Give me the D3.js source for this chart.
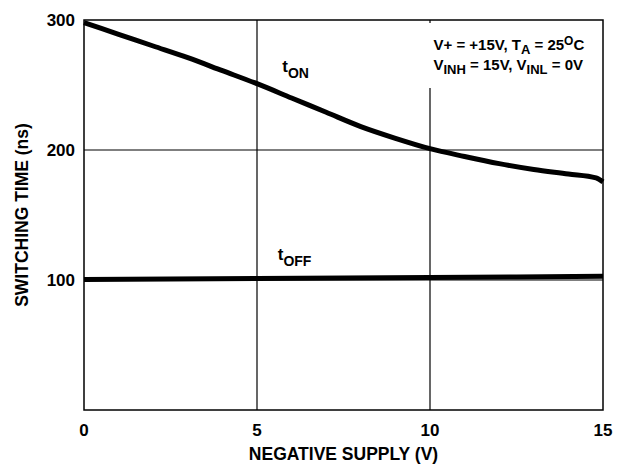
<!DOCTYPE html>
<html>
<head>
<meta charset="utf-8">
<script src="https://cdn.jsdelivr.net/npm/d3@7"></script>
<style>
  body { margin: 0; background: #fff; }
  text { font-family: "Liberation Sans", Arial, sans-serif; font-weight: bold; fill: #000; }
</style>
</head>
<body>
<svg id="chart" width="628" height="468"></svg>
<script>
// Data
const xTicks = [0, 5, 10, 15];
const yTicks = [100, 200, 300];
const yLabels = ['100', '200', '300'];

const supplyOn = [0, 1, 2, 3, 4, 5, 6, 7, 8, 9, 10, 11, 12, 13, 14, 14.8, 15];
const tOn = [298, 289, 280, 271, 261, 251, 240, 229, 218, 209, 201, 195, 189.5, 185, 181.5, 178.5, 175.5];

const supplyOff = [0, 5, 10, 15];
const tOff = [100.4, 101.2, 102, 102.8];

// Layout
const margin = { left: 84, top: 20, right: 25, bottom: 58 };
const width = 628, height = 468;
const w = width - margin.left - margin.right;
const h = height - margin.top - margin.bottom;

const svg = d3.select('#chart');
const g = svg.append('g').attr('transform', `translate(${margin.left},${margin.top})`);

const x = d3.scaleLinear().domain([0, 15]).range([0, w]);
const y = d3.scaleLinear().domain([0, 300]).range([h, 0]);

// Grid lines
g.selectAll('.vgrid')
  .data(xTicks.slice(1, -1))
  .join('line')
    .attr('x1', d => x(d)).attr('x2', d => x(d))
    .attr('y1', 0).attr('y2', h)
    .attr('stroke', '#000').attr('stroke-width', 1.2);

g.selectAll('.hgrid')
  .data(yTicks.slice(0, -1))
  .join('line')
    .attr('x1', 0).attr('x2', w)
    .attr('y1', d => y(d)).attr('y2', d => y(d))
    .attr('stroke', '#000').attr('stroke-width', 1.2);

// Frame
g.append('rect')
  .attr('width', w).attr('height', h)
  .attr('fill', 'none').attr('stroke', '#000').attr('stroke-width', 1.5);

// White box behind the conditions note
g.append('rect')
  .attr('x', x(9.7)).attr('y', 3)
  .attr('width', x(14.9) - x(9.7)).attr('height', 65)
  .attr('fill', '#fff');

// Tick labels
g.selectAll('.xlab')
  .data(xTicks)
  .join('text')
    .attr('x', d => x(d)).attr('y', h + 26)
    .attr('text-anchor', 'middle')
    .attr('font-size', 17)
    .text(d => d);

g.selectAll('.ylab')
  .data(yTicks)
  .join('text')
    .attr('x', -9).attr('y', d => y(d) + 6)
    .attr('text-anchor', 'end')
    .attr('font-size', 17)
    .text((d, i) => yLabels[i]);

// Axis titles
svg.append('text')
  .attr('x', margin.left + w / 2).attr('y', 460)
  .attr('text-anchor', 'middle')
  .attr('font-size', 17.5)
  .text('NEGATIVE SUPPLY (V)');

svg.append('text')
  .attr('transform', `translate(28,${margin.top + h / 2}) rotate(-90)`)
  .attr('text-anchor', 'middle')
  .attr('font-size', 17.5)
  .text('SWITCHING TIME (ns)');

// Curves
const line = d3.line()
  .x(d => x(d[0]))
  .y(d => y(d[1]))
  .curve(d3.curveMonotoneX);

g.append('path')
  .datum(d3.zip(supplyOn, tOn))
  .attr('fill', 'none').attr('stroke', '#000').attr('stroke-width', 5)
  .attr('d', line);

g.append('path')
  .datum(d3.zip(supplyOff, tOff))
  .attr('fill', 'none').attr('stroke', '#000').attr('stroke-width', 5)
  .attr('d', line);

// Curve labels with subscripts
function subLabel(px, py, main, sub) {
  const t = g.append('text').attr('x', px).attr('y', py).attr('font-size', 17);
  t.append('tspan').text(main);
  t.append('tspan').attr('dy', 6).attr('font-size', 14).text(sub);
}
subLabel(x(5.73), 52, 't', 'ON');
subLabel(x(5.6), 240, 't', 'OFF');

// Conditions note
const note1 = g.append('text').attr('x', x(10.1)).attr('y', 30).attr('font-size', 15);
note1.append('tspan').text('V+ = +15V, T');
note1.append('tspan').attr('dy', 4).attr('font-size', 13).text('A');
note1.append('tspan').attr('dy', -4).text(' = 25');
note1.append('tspan').attr('dy', -5).attr('font-size', 12).text('O');
note1.append('tspan').attr('dy', 5).text('C');

const note2 = g.append('text').attr('x', x(10.1)).attr('y', 50).attr('font-size', 15);
note2.append('tspan').text('V');
note2.append('tspan').attr('dy', 4).attr('font-size', 13).text('INH');
note2.append('tspan').attr('dy', -4).text(' = 15V, V');
note2.append('tspan').attr('dy', 4).attr('font-size', 13).text('INL');
note2.append('tspan').attr('dy', -4).text(' = 0V');
</script>
</body>
</html>
